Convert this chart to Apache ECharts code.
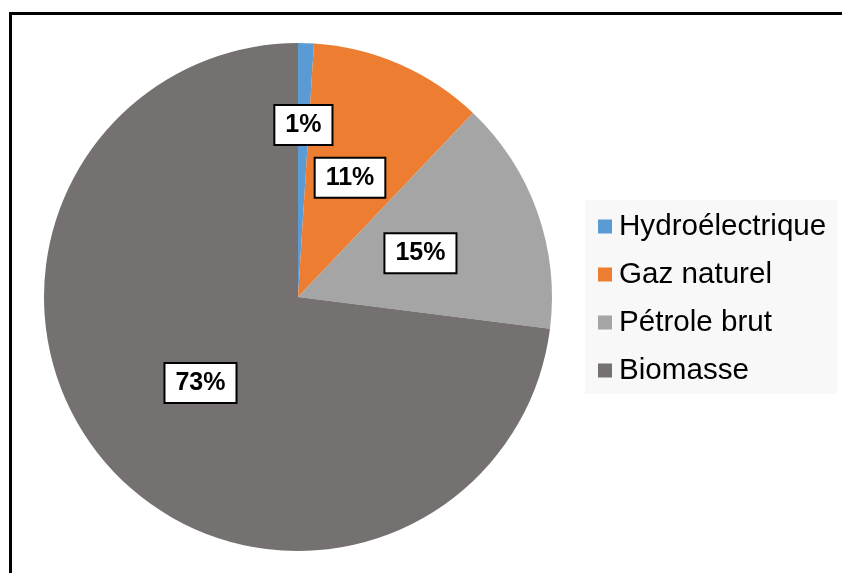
<!DOCTYPE html>
<html>
<head>
<meta charset="utf-8">
<script src="https://cdn.jsdelivr.net/npm/echarts@6/dist/echarts.min.js"></script>
<style>
html,body{margin:0;padding:0;background:#fff;}
#c{width:842px;height:573px;}
</style>
</head>
<body>
<div id="c"></div>
<script>
const categories = ['Hydroélectrique', 'Gaz naturel', 'Pétrole brut', 'Biomasse'];
const values = [1.0, 11.1, 14.9, 73.0];
const colors = ['#5B9BD5', '#ED7D31', '#A5A5A5', '#767171'];

const chart = echarts.init(document.getElementById('c'), null, {renderer: 'canvas'});
const FONT = '"Liberation Sans", Arial, sans-serif';

const labelBox = {
  show: true,
  position: 'inside',
  formatter: p => Math.round(p.percent) + '%',
  color: '#000',
  fontFamily: FONT,
  fontWeight: 'bold',
  fontSize: 25,
  lineHeight: 26,
  backgroundColor: '#fff',
  borderColor: '#000',
  borderWidth: 2,
  padding: [7, 10, 5, 10]
};

const mainData = categories.map((n, i) => ({
  name: n, value: values[i],
  itemStyle: {color: colors[i]},
  label: i === 0 ? {show: false} : labelBox
}));
const overlayData = categories.map((n, i) => ({
  name: n, value: values[i],
  itemStyle: {color: 'rgba(0,0,0,0)'},
  label: i === 0 ? labelBox : {show: false}
}));

chart.setOption({
  animation: false,
  backgroundColor: '#fff',
  graphic: [{
    type: 'rect',
    shape: {x: 10.5, y: 13.5, width: 1000, height: 1000},
    style: {fill: null, stroke: '#000', lineWidth: 3},
    silent: true,
    z: 100
  }],
  legend: {
    orient: 'vertical',
    left: 585,
    top: 200,
    data: categories,
    icon: 'rect',
    itemWidth: 14,
    itemHeight: 14,
    itemGap: 17,
    backgroundColor: '#f8f8f8',
    padding: [11, 11, 8, 13],
    textStyle: {fontFamily: FONT, fontSize: 29.6, color: '#000', lineHeight: 31, padding: [0, 0, 0, 2]}
  },
  series: [{
    type: 'pie',
    center: [298, 297],
    radius: [0, 254],
    startAngle: 90,
    clockwise: true,
    avoidLabelOverlap: false,
    silent: true,
    itemStyle: {borderWidth: 0},
    labelLine: {show: false},
    data: mainData
  }, {
    type: 'pie',
    center: [298, 297],
    radius: [84, 254],
    startAngle: 90,
    clockwise: true,
    avoidLabelOverlap: false,
    silent: true,
    itemStyle: {borderWidth: 0},
    labelLine: {show: false},
    data: overlayData
  }]
});
</script>
</body>
</html>
